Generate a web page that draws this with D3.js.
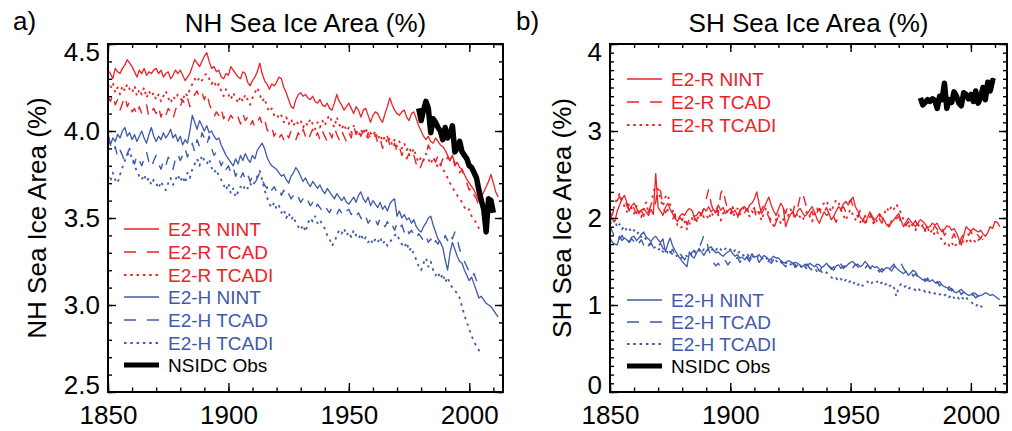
<!DOCTYPE html>
<html>
<head>
<meta charset="utf-8">
<script src="https://cdn.jsdelivr.net/npm/d3@7"></script>
<style>
  body { margin: 0; background: #fff; }
  svg { display: block; font-family: "Liberation Sans", Arial, Helvetica, sans-serif; }
</style>
</head>
<body>
<svg id="chart" width="1012" height="431"></svg>
<script>
// every model run starts in 1850, observations start in 1979
const modelStart = 1850;
const obsStart = 1979;

const xTicks = [1850, 1900, 1950, 2000];
const nhTicks = [2.5, 3.0, 3.5, 4.0, 4.5];
const shTicks = [0, 1, 2, 3, 4];

// ---- NH sea ice area (%) ----
const nhRNint = [
  4.35, 4.33, 4.30, 4.36, 4.34, 4.33, 4.36, 4.38, 4.41, 4.39,
  4.37, 4.34, 4.31, 4.35, 4.33, 4.36, 4.32, 4.34, 4.33, 4.35,
  4.36, 4.33, 4.35, 4.31, 4.33, 4.34, 4.30, 4.32, 4.35, 4.33,
  4.35, 4.32, 4.29, 4.31, 4.33, 4.37, 4.41, 4.39, 4.37, 4.40,
  4.43, 4.45, 4.40, 4.36, 4.37, 4.34, 4.35, 4.31, 4.30, 4.33,
  4.32, 4.37, 4.35, 4.33, 4.31, 4.30, 4.34, 4.33, 4.28, 4.26,
  4.29, 4.31, 4.34, 4.39, 4.33, 4.29, 4.27, 4.24, 4.27, 4.26,
  4.28, 4.31, 4.30, 4.25, 4.22, 4.18, 4.14, 4.13, 4.18, 4.21,
  4.22, 4.20, 4.21, 4.19, 4.18, 4.20, 4.17, 4.16, 4.18, 4.15,
  4.14, 4.16, 4.13, 4.12, 4.16, 4.21, 4.17, 4.15, 4.12, 4.14,
  4.16, 4.13, 4.10, 4.14, 4.12, 4.08, 4.12, 4.13, 4.09, 4.05,
  4.09, 4.11, 4.10, 4.07, 4.05, 4.10, 4.14, 4.19, 4.15, 4.12,
  4.10, 4.09, 4.11, 4.12, 4.08, 4.06, 4.10, 4.11, 4.07, 4.03,
  4.00, 3.97, 3.95, 3.97, 3.94, 3.93, 3.96, 3.94, 3.92, 3.91,
  3.89, 3.86, 3.83, 3.86, 3.81, 3.82, 3.79, 3.78, 3.75, 3.72,
  3.70, 3.68, 3.66, 3.63, 3.60, 3.62, 3.65, 3.68, 3.71, 3.75,
  3.70, 3.65, 3.62
];
const nhRTcad = [
  4.20, 4.17, 4.21, 4.15, 4.18, 4.12, 4.16, 4.20, 4.14, 4.17,
  4.11, 4.13, 4.09, 4.14, 4.10, 4.12, 4.15, 4.08, 4.11, 4.13,
  4.10, 4.14, 4.08, 4.12, 4.09, 4.13, 4.11, 4.07, 4.12, 4.16,
  4.14, 4.18, 4.15, 4.19, 4.14, 4.17, 4.21, 4.23, 4.19, 4.22,
  4.18, 4.22, 4.16, 4.12, 4.08, 4.11, 4.09, 4.13, 4.07, 4.10,
  4.06, 4.09, 4.07, 4.05, 4.08, 4.04, 4.10, 4.06, 4.08, 4.03,
  4.06, 4.02, 4.05, 4.08, 4.04, 4.07, 4.01, 3.99, 4.02, 3.97,
  4.00, 3.96, 3.98, 3.95, 3.99, 3.96, 4.00, 3.97, 3.95, 3.99,
  3.96, 4.01, 3.97, 3.94, 3.98, 4.01, 3.96, 3.99, 3.95, 4.00,
  3.97, 3.94, 3.99, 3.96, 4.02, 3.98, 3.95, 4.00, 3.97, 3.94,
  3.99, 3.96, 4.03, 3.98, 4.02, 3.97, 4.00, 3.95, 3.99, 3.96,
  3.94, 3.98, 3.93, 3.96, 3.90, 3.94, 3.97, 3.92, 3.89, 3.93,
  3.88, 3.91, 3.86, 3.89, 3.84, 3.87, 3.83, 3.86, 3.81, 3.77,
  3.80, 3.84, 3.86, 3.92, 3.89, 3.85, 3.82, 3.86, 3.80, 3.84,
  3.81, 3.85, 3.83, 3.87, 3.80, 3.82, 3.76, 3.78, 3.72, 3.70,
  3.66, 3.68, 3.63, 3.61, 3.57, 3.58
];
const nhRTcadi = [
  4.27, 4.24, 4.28, 4.22, 4.25, 4.21, 4.26, 4.23, 4.27, 4.24,
  4.22, 4.26, 4.20, 4.24, 4.21, 4.25, 4.19, 4.23, 4.20, 4.22,
  4.18, 4.21, 4.17, 4.20, 4.23, 4.19, 4.16, 4.20, 4.18, 4.21,
  4.19, 4.17, 4.22, 4.20, 4.24, 4.27, 4.30, 4.28, 4.31, 4.29,
  4.32, 4.33, 4.30, 4.27, 4.29, 4.25, 4.27, 4.23, 4.20, 4.24,
  4.21, 4.18, 4.22, 4.19, 4.16, 4.20, 4.17, 4.21, 4.18, 4.15,
  4.19, 4.22, 4.25, 4.21, 4.17, 4.19, 4.14, 4.11, 4.13, 4.09,
  4.10, 4.07, 4.09, 4.05, 4.08, 4.04, 4.07, 4.03, 4.06, 4.04,
  4.06, 4.02, 4.05, 4.03, 4.07, 4.04, 4.01, 4.05, 4.02, 4.06,
  4.03, 4.07, 4.09, 4.05, 4.02, 4.08, 4.04, 4.01, 4.04, 4.00,
  4.02, 3.99, 4.03, 4.00, 3.97, 4.01, 3.98, 4.02, 3.96, 3.99,
  3.97, 4.00, 3.95, 3.98, 3.94, 3.97, 3.93, 3.96, 3.92, 3.95,
  3.91, 3.94, 3.90, 3.93, 3.89, 3.91, 3.87, 3.90, 3.85, 3.82,
  3.85, 3.83, 3.87, 3.84, 3.81, 3.85, 3.82, 3.79, 3.81, 3.78,
  3.76, 3.73, 3.70, 3.68, 3.65, 3.63, 3.61, 3.59, 3.56, 3.54,
  3.55, 3.51, 3.49, 3.47, 3.44, 3.42
];
const nhHNint = [
  3.99, 3.92, 3.96, 3.94, 3.98, 3.96, 4.00, 4.02, 3.97, 3.99,
  3.95, 3.98, 3.94, 3.97, 4.00, 3.96, 3.93, 3.98, 4.02, 3.97,
  3.94, 3.97, 3.95, 3.99, 3.96, 3.98, 4.01, 3.96, 3.98, 3.94,
  3.97, 3.92, 3.95, 3.93, 4.00, 4.09, 4.05, 4.01, 4.06, 4.03,
  4.00, 4.03, 3.99, 4.00, 3.97, 3.95, 3.96, 3.92, 3.89, 3.86,
  3.84, 3.82, 3.80, 3.84, 3.81, 3.86, 3.83, 3.87, 3.84, 3.82,
  3.86, 3.84, 3.89, 3.91, 3.93, 3.90, 3.85, 3.82, 3.80, 3.79,
  3.78, 3.76, 3.74, 3.75, 3.72, 3.70, 3.74, 3.76, 3.79, 3.77,
  3.74, 3.71, 3.73, 3.70, 3.68, 3.71, 3.69, 3.67, 3.69, 3.66,
  3.64, 3.67, 3.65, 3.63, 3.61, 3.64, 3.62, 3.60, 3.62, 3.59,
  3.58, 3.60, 3.62, 3.59, 3.63, 3.65, 3.61, 3.59, 3.62, 3.57,
  3.60, 3.58, 3.56, 3.59, 3.55, 3.57, 3.54, 3.58, 3.60, 3.61,
  3.51, 3.54, 3.50, 3.52, 3.49, 3.50, 3.47, 3.49, 3.45, 3.43,
  3.42, 3.45, 3.47, 3.50, 3.51, 3.46, 3.42, 3.38, 3.36, 3.33,
  3.26, 3.20, 3.30, 3.36, 3.32, 3.28, 3.25, 3.24, 3.20, 3.17,
  3.14, 3.16, 3.12, 3.08, 3.04, 3.05, 3.03, 3.01, 3.00, 2.99,
  2.97, 2.95, 2.93
];
const nhHTcad = [
  3.97, 3.92, 3.88, 3.91, 3.85, 3.89, 3.86, 3.82, 3.87, 3.90,
  3.85, 3.81, 3.86, 3.83, 3.80, 3.84, 3.88, 3.82, 3.79, 3.83,
  3.86, 3.81, 3.78, 3.83, 3.80, 3.85, 3.82, 3.78, 3.84, 3.87,
  3.83, 3.86, 3.90, 3.85, 3.89, 3.93, 3.88, 3.95, 3.91, 3.99,
  3.96, 3.92, 3.97, 3.90, 3.86, 3.88, 3.84, 3.80, 3.83, 3.78,
  3.80, 3.76, 3.79, 3.74, 3.77, 3.73, 3.76, 3.72, 3.75, 3.71,
  3.74, 3.70, 3.73, 3.76, 3.72, 3.69, 3.67, 3.70, 3.66, 3.68,
  3.65, 3.67, 3.63, 3.66, 3.62, 3.64, 3.61, 3.63, 3.60, 3.62,
  3.59, 3.61, 3.58, 3.60, 3.57, 3.59, 3.55, 3.58, 3.56, 3.54,
  3.57, 3.55, 3.53, 3.56, 3.54, 3.52, 3.55, 3.53, 3.56, 3.54,
  3.55, 3.52, 3.54, 3.51, 3.53, 3.50, 3.48, 3.51, 3.47, 3.49,
  3.51, 3.49, 3.46, 3.50, 3.47, 3.45, 3.48, 3.44, 3.46, 3.43,
  3.47, 3.44, 3.46, 3.42, 3.45, 3.41, 3.43, 3.40, 3.38, 3.41,
  3.39, 3.37, 3.40, 3.36, 3.38, 3.34, 3.37, 3.35, 3.38, 3.36,
  3.40, 3.37, 3.41, 3.38, 3.42, 3.38, 3.32, 3.28, 3.25, 3.22,
  3.19, 3.16, 3.18, 3.14, 3.11, 3.12
];
const nhHTcadi = [
  3.74, 3.71, 3.76, 3.72, 3.70, 3.75, 3.79, 3.83, 3.86, 3.88,
  3.84, 3.80, 3.77, 3.74, 3.72, 3.75, 3.71, 3.73, 3.69, 3.72,
  3.70, 3.67, 3.71, 3.68, 3.66, 3.70, 3.73, 3.69, 3.72, 3.75,
  3.71, 3.74, 3.70, 3.76, 3.73, 3.78, 3.81, 3.84, 3.80, 3.86,
  3.83, 3.81, 3.84, 3.79, 3.76, 3.78, 3.74, 3.72, 3.69, 3.66,
  3.70, 3.64, 3.67, 3.62, 3.65, 3.68, 3.66, 3.69, 3.67, 3.70,
  3.68, 3.71, 3.74, 3.77, 3.72, 3.66, 3.62, 3.58, 3.56, 3.59,
  3.55, 3.57, 3.53, 3.55, 3.50, 3.53, 3.49, 3.51, 3.47, 3.45,
  3.43, 3.46, 3.42, 3.47, 3.50, 3.48, 3.51, 3.47, 3.49, 3.46,
  3.44, 3.40, 3.38, 3.34, 3.36, 3.40, 3.43, 3.41, 3.44, 3.40,
  3.42, 3.39, 3.43, 3.40, 3.38, 3.41, 3.37, 3.39, 3.36, 3.38,
  3.35, 3.38, 3.36, 3.39, 3.35, 3.37, 3.34, 3.36, 3.38, 3.40,
  3.41, 3.37, 3.35, 3.33, 3.36, 3.31, 3.33, 3.29, 3.26, 3.22,
  3.20, 3.24, 3.27, 3.22, 3.25, 3.20, 3.17, 3.19, 3.15, 3.18,
  3.13, 3.16, 3.12, 3.10, 3.08, 3.07, 3.04, 2.99, 2.94, 2.90,
  2.86, 2.82, 2.79, 2.76, 2.74, 2.72
];
const nhObs = [
  4.13, 4.06, 4.12, 4.17, 4.13, 3.99, 4.07, 4.05, 4.02, 4.00,
  3.95, 4.02, 3.96, 3.98, 4.03, 3.88, 3.90, 3.94, 3.88, 3.86,
  3.84, 3.80, 3.79, 3.76, 3.73, 3.66, 3.60, 3.55, 3.42, 3.61,
  3.60, 3.53
];

// ---- SH sea ice area (%) ----
const shRNint = [
  2.02, 1.98, 1.96, 2.08, 2.15, 2.22, 2.26, 2.18, 2.09, 2.14,
  2.17, 2.12, 2.05, 2.09, 2.11, 2.07, 2.03, 2.10, 2.04, 2.51,
  2.12, 2.08, 2.03, 2.12, 2.17, 2.10, 2.05, 2.00, 1.96, 2.02,
  2.05, 2.03, 2.08, 2.11, 2.09, 2.02, 2.03, 2.07, 2.05, 2.11,
  2.08, 2.13, 2.07, 2.10, 2.06, 2.15, 2.09, 2.12, 2.05, 2.08,
  2.11, 2.06, 2.09, 2.03, 2.07, 2.12, 2.13, 2.08, 2.15, 2.17,
  2.22, 2.30, 2.16, 2.05, 2.11, 2.18, 2.24, 2.15, 2.08, 2.03,
  2.10, 2.17, 2.12, 1.90, 1.98, 2.04, 2.07, 2.01, 2.08, 2.11,
  2.06, 2.02, 2.05, 2.09, 2.13, 2.07, 1.99, 1.94, 2.01, 2.07,
  2.03, 2.05, 1.98, 2.02, 2.08, 2.13, 2.10, 2.16, 2.19, 2.15,
  2.20, 2.24, 2.13, 2.08, 2.01, 1.98, 1.94, 2.00, 2.07, 2.02,
  1.98, 2.01, 2.05, 2.01, 1.97, 1.92, 1.90, 1.95, 1.98, 2.02,
  2.05, 1.97, 1.90, 1.95, 2.00, 1.96, 1.93, 1.90, 1.94, 1.98,
  1.96, 1.93, 1.89, 1.90, 1.94, 1.92, 1.94, 1.88, 1.84, 1.87,
  1.91, 1.90, 1.86, 1.88, 1.83, 1.76, 1.69, 1.80, 1.90, 1.87,
  1.85, 1.88, 1.86, 1.84, 1.86, 1.82, 1.79, 1.83, 1.90, 1.88,
  1.96, 1.95, 1.90
];
const shRTcad = [
  1.98, 2.05, 2.12, 2.20, 2.25, 2.18, 2.22, 2.14, 2.08, 2.16,
  2.11, 2.05, 2.14, 2.09, 2.02, 2.12, 2.06, 2.15, 2.10, 2.18,
  2.35, 2.31, 2.13, 2.06, 2.10, 2.02, 1.98, 2.05, 1.94, 2.01,
  1.97, 2.04, 1.92, 1.99, 2.06, 2.01, 1.96, 2.08, 2.03, 2.11,
  2.22, 2.33, 2.17, 2.08, 2.14, 2.05, 2.28, 2.34, 2.19, 2.10,
  2.04, 2.13, 2.07, 2.00, 2.09, 2.14, 2.06, 2.11, 2.03, 2.08,
  2.12, 1.98, 2.05, 2.10, 2.15, 2.07, 2.01, 1.93, 1.87, 1.95,
  2.02, 2.08, 2.11, 2.06, 2.14, 2.09, 2.05, 2.18, 2.12, 2.24,
  2.30, 2.19, 2.10, 2.03, 2.08, 1.99, 2.06, 2.11, 2.02, 2.07,
  2.12, 2.05, 2.09, 2.01, 1.95, 2.04, 2.10, 2.13, 2.07, 2.17,
  2.21, 2.14, 2.06, 2.01, 2.09, 1.96, 2.03, 1.98, 2.05, 2.00,
  1.95, 2.03, 1.99, 1.94, 2.01, 1.96, 1.90, 1.97, 2.04, 1.99,
  2.02, 1.94, 1.98, 1.91, 1.96, 1.88, 1.93, 1.97, 1.89, 1.94,
  1.90, 1.86, 1.92, 1.88, 1.85, 1.91, 1.87, 1.83, 1.89, 1.80,
  1.84, 1.79, 1.76, 1.82, 1.74, 1.68, 1.77, 1.82, 1.86, 1.80,
  1.85, 1.78, 1.83, 1.80, 1.76, 1.82
];
const shRTcadi = [
  1.95, 2.06, 2.15, 2.24, 2.28, 2.21, 2.13, 2.07, 2.17, 2.11,
  2.05, 2.14, 2.08, 2.01, 2.10, 2.18, 2.06, 2.12, 2.30, 2.36,
  2.33, 2.21, 2.13, 2.24, 2.27, 2.15, 2.09, 2.01, 1.92, 1.88,
  1.90, 1.96, 1.87, 1.93, 2.00, 1.95, 2.03, 1.98, 2.06, 2.01,
  2.04, 1.98, 2.07, 2.02, 2.09, 2.03, 1.97, 2.05, 2.10, 2.06,
  2.08, 2.01, 2.06, 2.11, 2.04, 2.09, 2.14, 2.06, 2.02, 2.08,
  2.03, 2.10, 2.05, 1.97, 2.06, 2.12, 2.04, 1.96, 1.91, 1.98,
  2.04, 1.93, 1.98, 2.07, 2.02, 2.10, 2.05, 1.99, 2.06, 2.01,
  1.97, 2.03, 2.08, 2.02, 1.96, 2.05, 2.11, 2.06, 2.14, 2.17,
  2.20, 2.13, 2.07, 2.15, 2.21, 2.18, 2.09, 2.03, 1.97, 2.05,
  2.10, 2.03, 1.98, 2.04, 1.95, 2.00, 1.93, 1.98, 2.02, 1.96,
  1.92, 1.98, 2.03, 1.97, 2.05, 2.12, 2.07, 2.14, 2.10, 2.16,
  2.11, 2.05, 1.98, 1.92, 1.88, 1.95, 1.90, 1.86, 1.93, 1.88,
  1.92, 1.85, 1.89, 1.82, 1.87, 1.80, 1.84, 1.78, 1.75, 1.70,
  1.73, 1.68, 1.72, 1.66, 1.70, 1.74, 1.69, 1.75, 1.72, 1.77,
  1.73, 1.76, 1.71, 1.74, 1.78, 1.75
];
const shHNint = [
  1.77, 1.72, 1.70, 1.69, 1.79, 1.74, 1.77, 1.75, 1.72, 1.78,
  1.79, 1.74, 1.77, 1.81, 1.84, 1.78, 1.76, 1.73, 1.77, 1.79,
  1.75, 1.72, 1.76, 1.61, 1.70, 1.77, 1.68, 1.63, 1.58, 1.54,
  1.50, 1.47, 1.44, 1.61, 1.56, 1.54, 1.60, 1.65, 1.61, 1.57,
  1.62, 1.65, 1.67, 1.63, 1.60, 1.61, 1.58, 1.56, 1.59, 1.61,
  1.63, 1.59, 1.56, 1.58, 1.54, 1.55, 1.52, 1.56, 1.53, 1.59,
  1.55, 1.56, 1.58, 1.54, 1.57, 1.55, 1.52, 1.53, 1.56, 1.54,
  1.54, 1.51, 1.49, 1.48, 1.51, 1.50, 1.47, 1.49, 1.48, 1.46,
  1.44, 1.47, 1.45, 1.48, 1.46, 1.44, 1.47, 1.46, 1.43, 1.45,
  1.48, 1.44, 1.43, 1.40, 1.45, 1.46, 1.42, 1.45, 1.44, 1.47,
  1.49, 1.50, 1.46, 1.47, 1.44, 1.46, 1.50, 1.47, 1.42, 1.45,
  1.43, 1.44, 1.41, 1.38, 1.41, 1.43, 1.42, 1.39, 1.44, 1.43,
  1.40, 1.38, 1.36, 1.39, 1.34, 1.37, 1.40, 1.38, 1.33, 1.31,
  1.29, 1.30, 1.28, 1.27, 1.29, 1.26, 1.25, 1.27, 1.23, 1.21,
  1.20, 1.17, 1.19, 1.15, 1.14, 1.16, 1.18, 1.15, 1.13, 1.11,
  1.12, 1.14, 1.13, 1.10, 1.11, 1.12, 1.14, 1.13, 1.11, 1.12,
  1.10, 1.08, 1.06
];
const shHTcad = [
  1.91, 1.84, 1.78, 1.82, 1.76, 1.80, 1.74, 1.78, 1.72, 1.76,
  1.73, 1.77, 1.71, 1.75, 1.69, 1.74, 1.68, 1.72, 1.66, 1.70,
  1.67, 1.71, 1.65, 1.62, 1.66, 1.60, 1.64, 1.58, 1.55, 1.59,
  1.56, 1.52, 1.57, 1.54, 1.60, 1.63, 1.58, 1.66, 1.72, 1.80,
  1.76, 1.63, 1.57, 1.49, 1.45, 1.48, 1.43, 1.47, 1.51, 1.46,
  1.50, 1.47, 1.52, 1.55, 1.49, 1.53, 1.58, 1.54, 1.50, 1.56,
  1.52, 1.55, 1.49, 1.53, 1.50, 1.46, 1.51, 1.48, 1.52, 1.49,
  1.46, 1.50, 1.47, 1.44, 1.48, 1.45, 1.49, 1.43, 1.46, 1.42,
  1.40, 1.44, 1.47, 1.42, 1.45, 1.41, 1.44, 1.39, 1.43, 1.46,
  1.42, 1.45, 1.41, 1.44, 1.40, 1.43, 1.47, 1.42, 1.45, 1.49,
  1.46, 1.43, 1.47, 1.44, 1.41, 1.45, 1.42, 1.46, 1.43, 1.40,
  1.44, 1.41, 1.38, 1.42, 1.39, 1.43, 1.40, 1.44, 1.47, 1.41,
  1.45, 1.48, 1.42, 1.38, 1.35, 1.39, 1.33, 1.36, 1.31, 1.34,
  1.30, 1.27, 1.31, 1.26, 1.28, 1.24, 1.27, 1.22, 1.25, 1.21,
  1.18, 1.21, 1.16, 1.19, 1.14, 1.17, 1.12, 1.15, 1.11, 1.13,
  1.10, 1.12, 1.08, 1.11, 1.06, 1.05
];
const shHTcadi = [
  1.96, 1.92, 1.98, 1.89, 1.93, 1.87, 1.91, 1.85, 1.88, 1.83,
  1.86, 1.81, 1.84, 1.78, 1.80, 1.75, 1.71, 1.68, 1.65, 1.67,
  1.63, 1.66, 1.61, 1.64, 1.60, 1.62, 1.58, 1.55, 1.57, 1.53,
  1.55, 1.58, 1.56, 1.60, 1.57, 1.62, 1.59, 1.63, 1.60, 1.64,
  1.61, 1.65, 1.62, 1.66, 1.63, 1.67, 1.64, 1.61, 1.65, 1.62,
  1.64, 1.60, 1.63, 1.59, 1.62, 1.58, 1.56, 1.59, 1.55, 1.57,
  1.54, 1.57, 1.53, 1.55, 1.51, 1.54, 1.50, 1.52, 1.49, 1.51,
  1.48, 1.50, 1.46, 1.49, 1.45, 1.47, 1.44, 1.46, 1.43, 1.45,
  1.42, 1.44, 1.41, 1.43, 1.40, 1.42, 1.39, 1.41, 1.38, 1.40,
  1.37, 1.35, 1.32, 1.29, 1.31, 1.27, 1.30, 1.26, 1.29, 1.25,
  1.28, 1.24, 1.27, 1.23, 1.26, 1.22, 1.25, 1.27, 1.23, 1.26,
  1.24, 1.27, 1.23, 1.26, 1.22, 1.25, 1.21, 1.24, 1.20, 1.10,
  1.21, 1.24, 1.20, 1.22, 1.18, 1.21, 1.19, 1.17, 1.20, 1.16,
  1.18, 1.15, 1.17, 1.14, 1.16, 1.13, 1.15, 1.12, 1.14, 1.11,
  1.13, 1.09, 1.12, 1.08, 1.11, 1.07, 1.10, 1.06, 1.09, 1.05,
  1.04, 1.01, 0.98, 1.02, 0.99, 0.97
];
const shObs = [
  3.38, 3.30, 3.33, 3.36, 3.34, 3.37, 3.35, 3.26, 3.40, 3.36,
  3.55, 3.26, 3.36, 3.33, 3.45, 3.40, 3.32, 3.29, 3.44, 3.42,
  3.37, 3.42, 3.34, 3.46, 3.32, 3.38, 3.50, 3.36, 3.56, 3.46,
  3.58, 3.57
];

const legendLabels = ['E2-R NINT', 'E2-R TCAD', 'E2-R TCADI', 'E2-H NINT', 'E2-H TCAD', 'E2-H TCADI', 'NSIDC Obs'];

// styles
const red = '#ec2227', blue = '#3f5aa9', black = '#000';
const styles = {
  nint:  { dash: null, width: 1.3 },
  tcad:  { dash: '10,10', width: 1.4 },
  tcadi: { dash: '2.5,4.5', width: 1.8 },
  obs:   { dash: null, width: 5.5 }
};
const fontMain = 26, fontLegend = 19;
const plotTop = 44, plotBottom = 392;

const svg = d3.select('#chart');

function drawPanel(p) {
  const g = svg.append('g');
  const x = d3.scaleLinear().domain(p.xDomain).range([p.left, p.right]);
  const y = d3.scaleLinear().domain(p.yDomain).range([plotBottom, plotTop]);

  const line = d3.line()
    .x(d => x(d.year))
    .y(d => y(d.value));

  p.series.forEach(s => {
    const pts = s.values.map((v, i) => ({ year: s.start + i, value: v }));
    g.append('path')
      .datum(pts)
      .attr('d', line)
      .attr('fill', 'none')
      .attr('stroke', s.color)
      .attr('stroke-width', styles[s.kind].width)
      .attr('stroke-dasharray', styles[s.kind].dash)
      .attr('stroke-linejoin', 'round');
  });

  // axes, ticks pointing inward on all four sides
  function addAxis(axis, tx, ty) {
    const a = g.append('g')
      .attr('transform', 'translate(' + tx + ',' + ty + ')')
      .call(axis);
    a.select('.domain').remove();
    a.selectAll('line').attr('stroke', '#000').attr('stroke-width', 1.4);
    a.selectAll('text')
      .style('font-size', fontMain + 'px')
      .style('font-family', '"Liberation Sans", Arial, sans-serif')
      .attr('fill', '#000');
    return a;
  }
  const xMinor = d3.range(1850, p.xDomain[1] + 1, 10);
  const yMinor = d3.range(p.yDomain[0], p.yDomain[1] + 0.001, 0.1);

  addAxis(d3.axisBottom(x).tickValues(xTicks).tickSize(-9).tickPadding(14).tickFormat(d3.format('d')), 0, plotBottom);
  addAxis(d3.axisBottom(x).tickValues(xMinor).tickSize(-4.5).tickFormat(''), 0, plotBottom);
  addAxis(d3.axisTop(x).tickValues(xTicks).tickSize(-8).tickFormat(''), 0, plotTop);
  addAxis(d3.axisTop(x).tickValues(xMinor).tickSize(-4).tickFormat(''), 0, plotTop);

  const yl = addAxis(d3.axisLeft(y).tickValues(p.yTicks).tickSize(-8).tickPadding(8).tickFormat(p.fmt), p.left, 0);
  // end labels are nudged inside the frame
  yl.selectAll('text').attr('transform', d =>
    d === p.yDomain[1] ? 'translate(0,8)' : (d === p.yDomain[0] ? 'translate(0,-7)' : null));
  addAxis(d3.axisLeft(y).tickValues(yMinor).tickSize(-4).tickFormat(''), p.left, 0);
  addAxis(d3.axisRight(y).tickValues(p.yTicks).tickSize(-8).tickFormat(''), p.right, 0);
  addAxis(d3.axisRight(y).tickValues(yMinor).tickSize(-4).tickFormat(''), p.right, 0);

  g.append('rect')
    .attr('x', p.left).attr('y', plotTop)
    .attr('width', p.right - p.left).attr('height', plotBottom - plotTop)
    .attr('fill', 'none').attr('stroke', '#000').attr('stroke-width', 2);

  // titles
  g.append('text')
    .attr('x', (p.left + p.right) / 2).attr('y', 32)
    .attr('text-anchor', 'middle').attr('font-size', fontMain)
    .text(p.title);
  g.append('text')
    .attr('x', p.letterX).attr('y', 30)
    .attr('font-size', fontMain)
    .text(p.letter);
  g.append('text')
    .attr('transform', 'translate(' + p.ylabelX + ',' + (plotTop + plotBottom) / 2 + ') rotate(-90)')
    .attr('text-anchor', 'middle').attr('font-size', fontMain)
    .text(p.title);

  // legend
  const leg = g.append('g');
  p.legend.forEach((item, i) => {
    const ly = p.legendY[i];
    leg.append('line')
      .attr('x1', p.legendX).attr('x2', p.legendX + 35)
      .attr('y1', ly).attr('y2', ly)
      .attr('stroke', item.color)
      .attr('stroke-width', item.kind === 'obs' ? 5 : styles[item.kind].width + 0.2)
      .attr('stroke-dasharray', item.kind === 'tcad' ? '12,11' : (item.kind === 'tcadi' ? '2.5,3.8' : null));
    leg.append('text')
      .attr('x', p.legendX + 44).attr('y', ly).attr('dy', '0.35em')
      .attr('font-size', fontLegend)
      .attr('fill', item.color)
      .text(item.label);
  });
}

const legendKinds = ['nint', 'tcad', 'tcadi', 'nint', 'tcad', 'tcadi', 'obs'];
const legendColors = [red, red, red, blue, blue, blue, black];
const legendItems = legendLabels.map((l, i) => ({ label: l, kind: legendKinds[i], color: legendColors[i] }));

drawPanel({
  left: 108, right: 503, xDomain: [1850, 2014], yDomain: [2.5, 4.5],
  yTicks: nhTicks, fmt: d3.format('.1f'),
  title: 'NH Sea Ice Area (%)', letter: 'a)', letterX: 13, ylabelX: 46,
  legend: legendItems, legendX: 124,
  legendY: [229, 252, 275, 297, 320, 343, 365],
  series: [
    { values: nhHTcadi, start: modelStart, kind: 'tcadi', color: blue },
    { values: nhHTcad, start: modelStart, kind: 'tcad', color: blue },
    { values: nhHNint, start: modelStart, kind: 'nint', color: blue },
    { values: nhRTcadi, start: modelStart, kind: 'tcadi', color: red },
    { values: nhRTcad, start: modelStart, kind: 'tcad', color: red },
    { values: nhRNint, start: modelStart, kind: 'nint', color: red },
    { values: nhObs, start: obsStart, kind: 'obs', color: black }
  ]
});

drawPanel({
  left: 610, right: 1007, xDomain: [1850, 2015], yDomain: [0, 4],
  yTicks: shTicks, fmt: d3.format('d'),
  title: 'SH Sea Ice Area (%)', letter: 'b)', letterX: 516, ylabelX: 571,
  legend: legendItems, legendX: 627,
  legendY: [79, 102, 125, 300, 322, 344, 366],
  series: [
    { values: shHTcadi, start: modelStart, kind: 'tcadi', color: blue },
    { values: shHTcad, start: modelStart, kind: 'tcad', color: blue },
    { values: shHNint, start: modelStart, kind: 'nint', color: blue },
    { values: shRTcadi, start: modelStart, kind: 'tcadi', color: red },
    { values: shRTcad, start: modelStart, kind: 'tcad', color: red },
    { values: shRNint, start: modelStart, kind: 'nint', color: red },
    { values: shObs, start: obsStart, kind: 'obs', color: black }
  ]
});
</script>
</body>
</html>
